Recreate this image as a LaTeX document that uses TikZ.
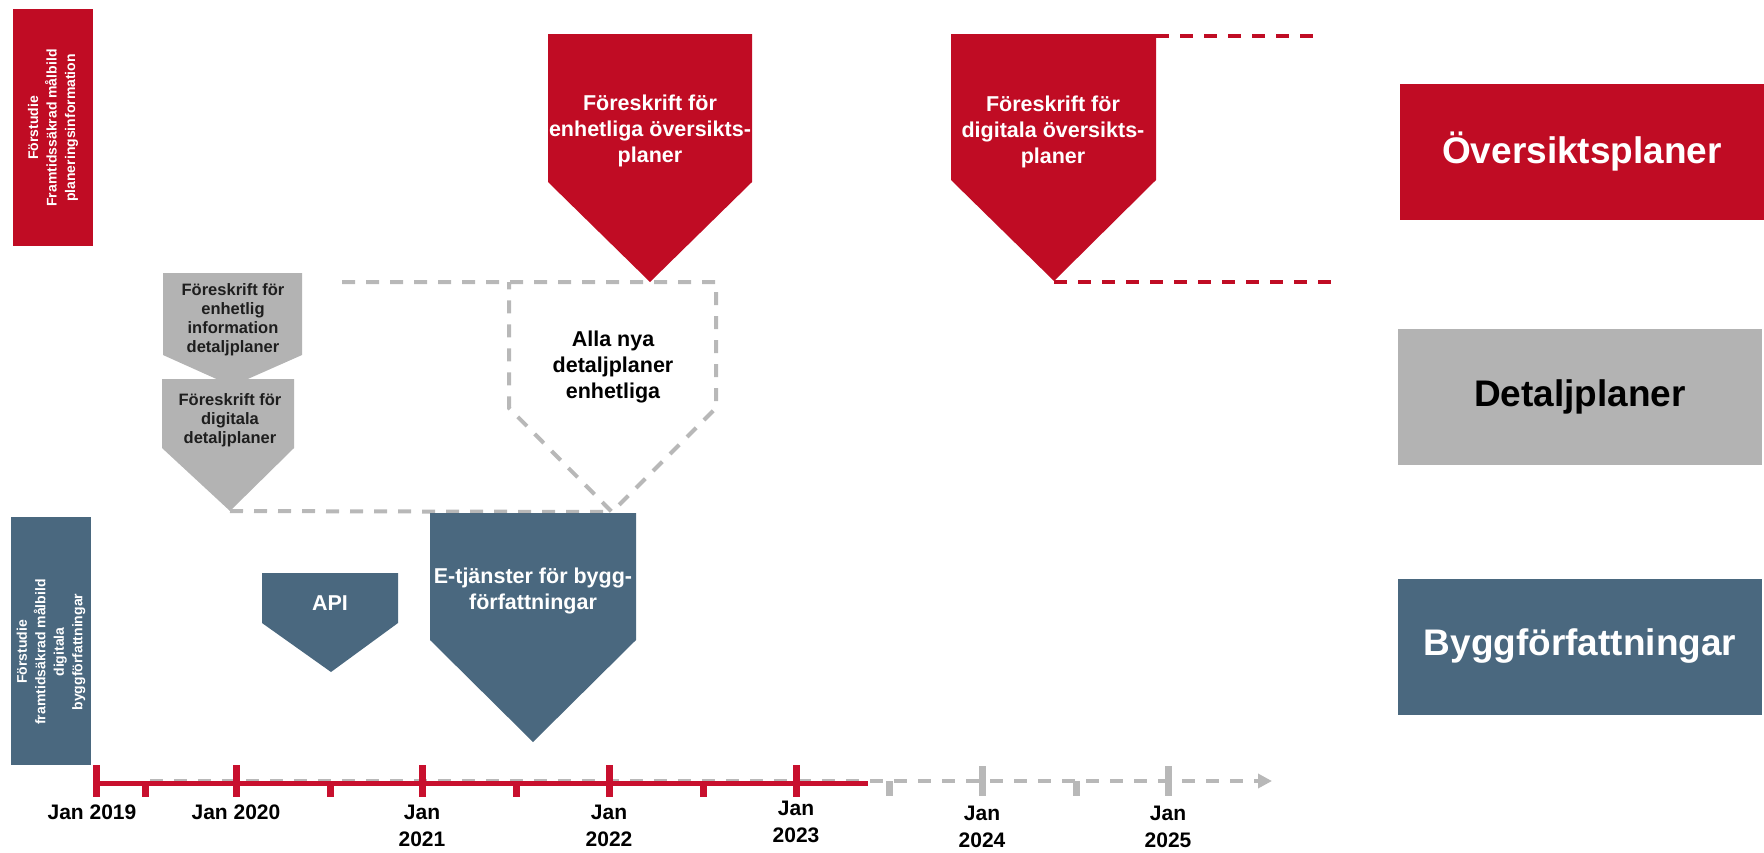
\documentclass[tikz,border=0pt]{standalone}
\usepackage{fontspec}
\setmainfont{Liberation Sans}
\usetikzlibrary{arrows.meta}

\definecolor{opred}{RGB}{192,12,36}
\definecolor{linered}{RGB}{200,16,46}
\definecolor{dpgray}{RGB}{179,179,179}
\definecolor{dashgray}{RGB}{184,184,184}
\definecolor{bfblue}{RGB}{74,104,127}
\definecolor{darktext}{RGB}{30,30,30}

\begin{document}
\begin{tikzpicture}[x=1pt,y=-1pt,
  arrowtext/.style={font=\bfseries\fontsize{21.5}{26}\selectfont,align=center,inner sep=0pt},
  smalltext/.style={font=\bfseries\fontsize{16.5}{19}\selectfont,align=center,inner sep=0pt,text=darktext},
  studytext/.style={font=\bfseries\fontsize{14}{18.5}\selectfont,align=center,inner sep=0pt,text=white,rotate=90},
  catbox/.style={font=\bfseries\fontsize{37}{40}\selectfont,minimum width=364pt,minimum height=136pt,inner sep=0pt},
  yearlabel/.style={font=\bfseries\fontsize{21}{27}\selectfont,align=center,inner sep=0pt},
  graydash/.style={draw=dashgray,line width=4pt,dash pattern=on 13pt off 11pt},
  reddash/.style={draw=opred,line width=3.5pt,dash pattern=on 13pt off 11pt},
]
\useasboundingbox (0,0) rectangle (1764,852);

% study boxes to the left
\fill[opred] (13,9) rectangle (93,246);
\node[studytext] (studyop) at (53,128) {Förstudie\\Framtidssäkrad målbild\\planeringsinformation};
\fill[bfblue] (11,517) rectangle (91,765);
\node[studytext] (studybf) at (51,652) {Förstudie\\framtidsäkrad målbild\\digitala\\byggförfattningar};

% detaljplaner arrows
\fill[dpgray] (163,273) -- (302,273) -- (302,355) -- (232,386) -- (163,355) -- cycle;
\node[smalltext] (dpinfo) at (233,320) {Föreskrift för\\enhetlig\\information\\detaljplaner};
\fill[dpgray] (162,379) -- (294,379) -- (294,448) -- (230,511) -- (162,448) -- cycle;
\node[smalltext] (dpdigital) at (230,420) {Föreskrift för\\digitala\\detaljplaner};
\coordinate (dptip) at (230,511);

% dashed outline, alla nya detaljplaner
\coordinate (allastart) at (342,282);
\coordinate (allatip) at (612,512);
\draw[graydash] (allastart) -- (716,282) -- (716,408) -- (allatip) -- (509,408) -- (509,282);
\draw[graydash] (dptip) -- (allatip);
\node[arrowtext] (alla) at (613,367) {Alla nya\\detaljplaner\\enhetliga};

% oversiktsplaner arrows
\fill[opred] (548,34) -- (752,34) -- (752,182) -- (650,282) -- (548,182) -- cycle;
\node[arrowtext,text=white] (openhet) at (650,131) {Föreskrift för\\enhetliga översikts-\\planer};
\fill[opred] (951,34) -- (1156,34) -- (1156,180) -- (1054,281) -- (951,180) -- cycle;
\node[arrowtext,text=white] (opdigital) at (1053,132) {Föreskrift för\\digitala översikts-\\planer};
\coordinate (optop) at (1156,36);
\coordinate (optip) at (1054,282);
\coordinate (optopend) at (1317,36);
\coordinate (optipend) at (1337,282);
\draw[reddash] (optop) -- (optopend);
\draw[reddash] (optip) -- (optipend);

% byggforfattningar arrows
\fill[bfblue] (262,573) -- (398,573) -- (398,623) -- (331,672) -- (262,623) -- cycle;
\node[arrowtext,text=white] (api) at (330,603) {API};
\fill[bfblue] (430,513) -- (636,513) -- (636,640) -- (533,742) -- (430,640) -- cycle;
\node[arrowtext,text=white] (etj) at (533,591) {E-tjänster för bygg-\\författningar};

% categories
\node[catbox,fill=opred,text=white] (catop) at (1582,152) {Översiktsplaner};
\node[catbox,fill=dpgray,text=black] (catdp) at (1580,396.5) {Detaljplaner};
\node[catbox,fill=bfblue,text=white] (catbf) at (1580,646.5) {Byggförfattningar};

% timeline
\coordinate (tlstart) at (150,781);
\coordinate (tlend) at (1272,781);
\draw[graydash,-{Triangle[length=14pt,width=14pt]}] (tlstart) -- (tlend);
\foreach \x in {982,1168}
  \fill[dashgray] (\x-3.5,766) rectangle (\x+3.5,796);
\foreach \x in {889,1076}
  \fill[dashgray] (\x-3.5,781) rectangle (\x+3.5,796);
\fill[linered] (96,781) rectangle (868,786);
\foreach \x in {96,236,422,609,796}
  \fill[linered] (\x-3.5,765) rectangle (\x+3.5,797);
\foreach \x in {145,330,516,703}
  \fill[linered] (\x-3.5,781) rectangle (\x+3.5,797);

\node[yearlabel] (y2019) at (92,812) {Jan 2019};
\node[yearlabel] (y2020) at (236,812) {Jan 2020};
\node[yearlabel] (y2021) at (422,826) {Jan\\2021};
\node[yearlabel] (y2022) at (609,826) {Jan\\2022};
\node[yearlabel] (y2023) at (796,822) {Jan\\2023};
\node[yearlabel] (y2024) at (982,827) {Jan\\2024};
\node[yearlabel] (y2025) at (1168,827) {Jan\\2025};

\end{tikzpicture}
\end{document}
